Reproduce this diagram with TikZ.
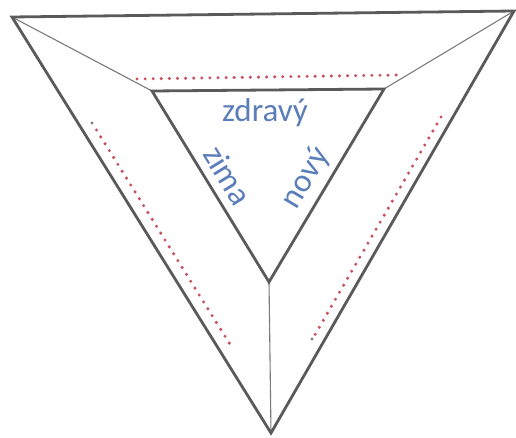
\documentclass[tikz,border=0pt]{standalone}
\usepackage{fontspec}
\setmainfont{Carlito}
\usetikzlibrary{positioning}
\definecolor{framegray}{HTML}{5A5A5A}
\definecolor{spokegray}{HTML}{7A7A7A}
\definecolor{dotred}{HTML}{C9505F}
\definecolor{wordblue}{HTML}{5B7DB9}

\begin{document}
\begin{tikzpicture}[
    x=1pt, y=-1pt,
    frame/.style={draw=framegray, line width=2.8pt, line join=miter},
    spoke/.style={draw=spokegray, line width=1.1pt},
    dotline/.style={draw=dotred, line width=3.4pt, line cap=round, dash pattern=on 0pt off 8.1pt},
    word/.style={text=wordblue, font=\fontsize{33}{33}\selectfont, inner sep=0pt},
]
    \useasboundingbox (0,0) rectangle (516,438);

    % Corners
    \coordinate (oL) at (12,17);
    \coordinate (oR) at (514,11);
    \coordinate (oB) at (271,433);
    \coordinate (iL) at (152,91);
    \coordinate (iR) at (384,89);
    \coordinate (iB) at (269,282);

    % Spokes
    \draw[spoke] (oL) -- (iL);
    \draw[spoke] (oR) -- (iR);
    \draw[spoke] (oB) -- (iB);

    % Triangles
    \draw[frame] (oL) -- (oR) -- (oB) -- cycle;
    \draw[frame] (iL) -- (iR) -- (iB) -- cycle;

    % Dotted guides
    \coordinate (tS) at (137,79);
    \coordinate (tE) at (397,75);
    \coordinate (lS) at (96.5,130);
    \coordinate (lE) at (229.5,343.5);
    \coordinate (rS) at (441,117);
    \coordinate (rE) at (314.5,335.5);
    \draw[dotline] (tS) -- (tE);
    \draw[dotline] (lS) -- (lE);
    \draw[dotline] (rS) -- (rE);
    \fill[spokegray] (92,123) circle (1.6pt);
    \fill[spokegray] (312,339) circle (1.6pt);

    % Words
    \node[word, anchor=base] (healthy) at (265,122) {zdravý};
    \node[word, rotate=-58.5] (winter) at (228,175) {zima};
    \node[word, rotate=59] (new) at (306,178) {nový};
\end{tikzpicture}
\end{document}
